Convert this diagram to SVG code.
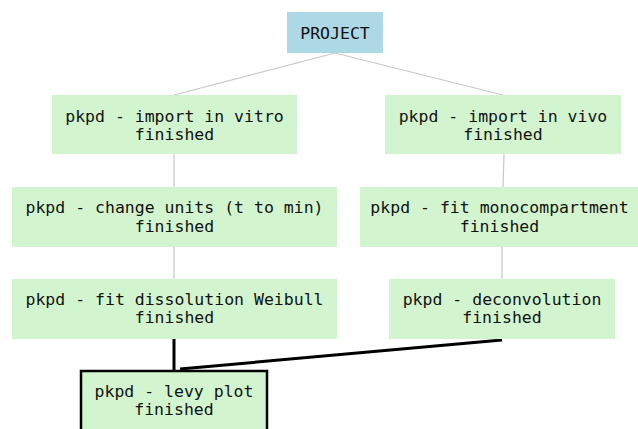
<svg xmlns="http://www.w3.org/2000/svg" width="638" height="429" viewBox="0 0 638 429">
<style>
.n{fill:#d2f5cf}
.p{fill:#add8e6}
.sel{stroke:#000;stroke-width:2.5}
text{font-family:"DejaVu Sans Mono","Liberation Mono",monospace;font-size:16.5px;fill:#111;text-anchor:middle}
.thin{stroke:#c8c8c8;stroke-width:1.2;fill:none}
.thick{stroke:#000;stroke-width:3;fill:none}
</style>
<rect width="638" height="429" fill="#fff"/>
<g id="connectors">
<polyline class="thin" points="174,95 335,53 503,95"/>
<line class="thin" x1="174" y1="154" x2="174" y2="187"/>
<line class="thin" x1="174" y1="247" x2="174" y2="279"/>
<line class="thin" x1="504" y1="154" x2="503" y2="187"/>
<line class="thin" x1="502" y1="247" x2="502" y2="279"/>
<line class="thick" x1="174" y1="339" x2="174" y2="370"/>
<line class="thick" x1="502" y1="340" x2="180" y2="369"/>
</g>
<g id="project"><rect class="p" x="287" y="12" width="96" height="41"/><text x="335" y="39">PROJECT</text></g>
<g id="import_vitro"><rect class="n" x="52" y="95" width="245" height="59"/><text x="174.5" y="122">pkpd - import in vitro</text><text x="174.5" y="140">finished</text></g>
<g id="change_units"><rect class="n" x="12" y="187" width="325" height="60"/><text x="174.5" y="213">pkpd - change units (t to min)</text><text x="174.5" y="232">finished</text></g>
<g id="fit_dissolution"><rect class="n" x="12" y="279" width="325" height="60"/><text x="174.5" y="305">pkpd - fit dissolution Weibull</text><text x="174.5" y="323">finished</text></g>
<g id="levy_plot"><rect class="n sel" x="81" y="371" width="186" height="60"/><text x="174" y="397">pkpd - levy plot</text><text x="174" y="415">finished</text></g>
<g id="import_vivo"><rect class="n" x="385" y="95" width="236" height="59"/><text x="503" y="122">pkpd - import in vivo</text><text x="503" y="140">finished</text></g>
<g id="fit_mono"><rect class="n" x="360" y="187" width="280" height="60"/><text x="499.5" y="213">pkpd - fit monocompartment</text><text x="499.5" y="232">finished</text></g>
<g id="deconvolution"><rect class="n" x="389" y="279" width="226" height="60"/><text x="502" y="305">pkpd - deconvolution</text><text x="502" y="323">finished</text></g>
</svg>
